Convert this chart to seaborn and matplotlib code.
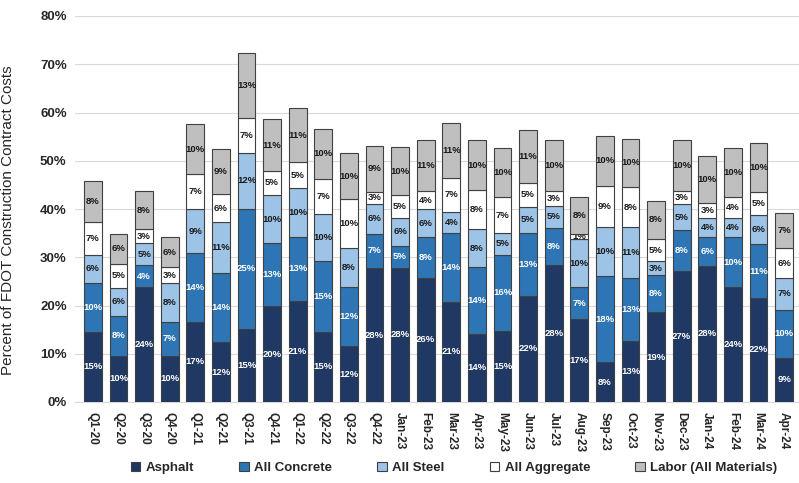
import numpy as np
import pandas as pd
import seaborn as sns
from matplotlib import pyplot as plt
from matplotlib.ticker import FuncFormatter

periods = ["Q1-20", "Q2-20", "Q3-20", "Q4-20", "Q1-21", "Q2-21", "Q3-21", "Q4-21",
           "Q1-22", "Q2-22", "Q3-22", "Q4-22", "Jan-23", "Feb-23", "Mar-23", "Apr-23",
           "May-23", "Jun-23", "Jul-23", "Aug-23", "Sep-23", "Oct-23", "Nov-23", "Dec-23",
           "Jan-24", "Feb-24", "Mar-24", "Apr-24"]

# share of contract costs, percent
asphalt = [14.6, 9.6, 23.9, 9.6, 16.6, 12.4, 15.1, 19.8, 20.9, 14.6, 11.6, 27.7, 27.8, 25.8,
           20.8, 14.1, 14.8, 22.0, 28.4, 17.1, 8.2, 12.6, 18.6, 27.2, 28.2, 23.9, 21.6, 9.2]
concrete = [10.1, 8.3, 4.4, 7.0, 14.3, 14.3, 25.0, 13.1, 13.4, 14.6, 12.2, 7.2, 4.6, 8.4,
            14.3, 13.9, 15.7, 13.1, 7.6, 6.7, 17.9, 13.0, 7.7, 8.4, 5.9, 10.2, 11.1, 9.9]
steel = [5.8, 5.8, 4.6, 8.1, 9.0, 10.6, 11.6, 10.0, 10.0, 9.7, 8.1, 6.1, 5.7, 5.7,
         4.3, 7.8, 4.6, 5.4, 4.7, 10.0, 10.1, 10.6, 2.9, 5.4, 4.0, 4.0, 6.1, 6.6]
aggregate = [6.9, 4.9, 2.9, 3.2, 7.3, 5.8, 7.2, 5.0, 5.4, 7.4, 10.1, 2.6, 4.8, 3.9,
             7.1, 8.1, 7.3, 4.9, 3.1, 1.0, 8.6, 8.4, 4.6, 2.7, 3.1, 4.3, 4.7, 6.2]
labor = [8.3, 6.3, 7.9, 6.3, 10.4, 9.4, 13.4, 10.7, 11.2, 10.2, 9.6, 9.4, 9.9, 10.6,
         11.4, 10.3, 10.2, 10.9, 10.5, 7.6, 10.4, 10.0, 7.9, 10.5, 9.8, 10.3, 10.2, 7.3]

series_names = ["Asphalt", "All Concrete", "All Steel", "All Aggregate", "Labor (All Materials)"]
series_values = [asphalt, concrete, steel, aggregate, labor]
colors = ["#1F3864", "#2E75B6", "#9DC3E6", "#FFFFFF", "#BFBFBF"]
label_colors = ["white", "white", "#1A1A1A", "#1A1A1A", "#1A1A1A"]

sns.set_style("white")
plt.rcParams["font.family"] = ["Liberation Sans", "DejaVu Sans"]

fig = plt.figure(figsize=(7.99, 4.83), dpi=100)
ax = fig.add_axes([75 / 799, 81 / 483, 727 / 799, 386 / 483])

bottom = np.zeros(len(periods))
for name, vals, col, lcol in zip(series_names, series_values, colors, label_colors):
    vals = np.array(vals)
    df = pd.DataFrame({"Period": periods, "Value": vals})
    sns.barplot(data=df, x="Period", y="Value", order=periods, color=col, saturation=1,
                width=0.69, errorbar=None, bottom=bottom, edgecolor="#404040",
                linewidth=0.8, label=name, ax=ax, zorder=3)
    cont = ax.containers[-1]
    ax.bar_label(cont, labels=[f"{v:.0f}%" for v in vals], label_type="center",
                 color=lcol, fontsize=6.8, fontweight="bold")
    bottom = bottom + vals

ax.set_xlim(-0.7, 27.7)
ax.set_ylim(0, 80)
ax.set_yticks(range(0, 81, 10))
ax.yaxis.set_major_formatter(FuncFormatter(lambda v, p: f"{v:.0f}%"))
ax.grid(axis="y", color="#D9D9D9", linewidth=0.8, zorder=0)
ax.set_axisbelow(True)
for s in ["top", "right", "left"]:
    ax.spines[s].set_visible(False)
ax.spines["bottom"].set_color("#D9D9D9")

ax.set_xlabel("")
ax.set_ylabel("Percent of FDOT Construction Contract Costs", fontsize=11)
ax.yaxis.set_label_coords(-0.0825, 0.4715)
ax.tick_params(axis="y", length=0, labelsize=9.5, pad=6)
ax.tick_params(axis="x", length=0, labelsize=8.5, pad=7, rotation=270)
for t in ax.get_xticklabels() + ax.get_yticklabels():
    t.set_fontweight("bold")

handles = ax.containers[:]
ax.legend(handles, series_names, loc="center", bbox_to_anchor=(454 / 799, 15 / 483),
          bbox_transform=fig.transFigure, ncol=5, frameon=False,
          prop={"weight": "bold", "size": 9.5}, handlelength=0.75, handleheight=0.75,
          columnspacing=3.4, handletextpad=0.4)

fig.savefig("out.png", dpi=100)
